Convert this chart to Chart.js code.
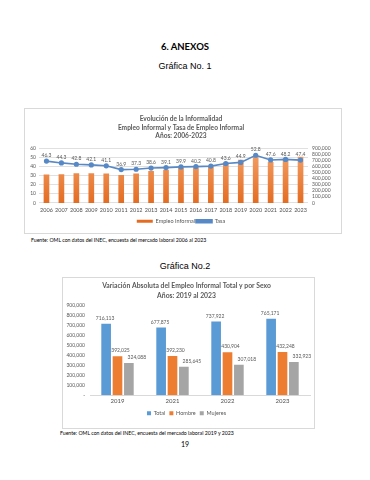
<!DOCTYPE html>
<html lang="es">
<head>
<meta charset="utf-8">
<title>Anexos - Empleo Informal</title>
<script src="https://cdn.jsdelivr.net/npm/chart.js@4.4.0/dist/chart.umd.min.js"></script>
<style>
  body { margin: 0; background: #fff; font-family: Lato, "Open Sans", sans-serif; }
  .page { position: relative; width: 370px; height: 480px; overflow: hidden; }
  .heading { position: absolute; left: 0; width: 370px; text-align: center; font-weight: bold; font-size: 9.5px; top: 41px; color: #000; }
  .caption { position: absolute; left: 0; width: 370px; text-align: center; font-family: "Liberation Sans", Arial, sans-serif; font-size: 9px; color: #000; }
  .box { position: absolute; border: 1px solid #D9D9D9; background: #fff; }
  .box canvas { display: block; }
  .source { position: absolute; font-size: 5.2px; color: #000; white-space: nowrap; }
  .pagenum { position: absolute; left: 0; width: 370px; text-align: center; font-size: 7px; top: 440px; }
</style>
</head>
<body>
<div class="page">
  <div class="heading">6. ANEXOS</div>
  <div class="caption" style="top:61px">Gráfica No. 1</div>

  <div class="box" style="left:24px; top:108px; width:316px; height:124px;">
    <canvas id="chartInformal"></canvas>
  </div>
  <div class="source" style="left:31px; top:237px;">Fuente: OML con datos del INEC, encuesta del mercado laboral 2006 al 2023</div>

  <div class="caption" style="top:261px">Gráfica No.2</div>

  <div class="box" style="left:62px; top:277px; width:251px; height:150px;">
    <canvas id="chartSexo"></canvas>
  </div>
  <div class="source" style="left:60px; top:430px;">Fuente: OML con datos del INEC, encuesta del mercado laboral 2019 y 2023</div>

  <div class="pagenum">19</div>
</div>

<script>
// Gráfica 1 data
const years = ["2006", "2007", "2008", "2009", "2010", "2011", "2012", "2013", "2014",
  "2015", "2016", "2017", "2018", "2019", "2020", "2021", "2022", "2023"];
const empleoInformal = [471000, 476000, 494000, 494000, 487000, 464000, 490000, 532000, 551000,
  578000, 589000, 601000, 672000, 716113, 779000, 677875, 737922, 765171];
const tasa = [46.3, 44.3, 42.8, 42.1, 41.1, 36.9, 37.3, 38.6, 39.1,
  39.9, 40.2, 40.8, 43.6, 44.9, 52.8, 47.6, 48.2, 47.4];

// Gráfica 2 data
const periodos = ["2019", "2021", "2022", "2023"];
const total = [716113, 677875, 737922, 765171];
const hombre = [392025, 392230, 430904, 432248];
const mujeres = [324088, 285645, 307018, 332923];

const textGray = "#595959";
const gridGray = "#E0E0E0";
const fontFamily = "Lato, 'Open Sans', sans-serif";

const fmt = (v) => v.toLocaleString("en-US");

// draws the value above each bar / point of the datasets listed in options
const valueLabels = {
  id: "valueLabels",
  afterDatasetsDraw(chart, args, opts) {
    if (!opts.datasets) return;
    const ctx = chart.ctx;
    ctx.save();
    ctx.font = opts.size + "px " + fontFamily;
    ctx.fillStyle = textGray;
    ctx.textAlign = "center";
    ctx.textBaseline = "bottom";
    opts.datasets.forEach((i, k) => {
      const meta = chart.getDatasetMeta(i);
      const data = chart.data.datasets[i].data;
      const dx = opts.dx ? opts.dx[k] : 0;
      meta.data.forEach((el, j) => {
        ctx.fillText(opts.format(data[j]), el.x + dx, el.y - opts.offset);
      });
    });
    ctx.restore();
  },
};

function barGradient(context) {
  const area = context.chart.chartArea;
  if (!area) return "#ED7D31";
  const g = context.chart.ctx.createLinearGradient(0, area.top, 0, area.bottom);
  g.addColorStop(0, "#F4A36B");
  g.addColorStop(1, "#E46C22");
  return g;
}

function initChartInformal() {
  const ctx = document.getElementById("chartInformal");
  new Chart(ctx, {
    type: "bar",
    data: {
      labels: years,
      datasets: [
        {
          type: "bar",
          label: "Empleo Informal",
          data: empleoInformal,
          yAxisID: "y1",
          backgroundColor: barGradient,
          barPercentage: 0.38,
          categoryPercentage: 1,
          order: 1,
        },
        {
          type: "line",
          label: "Tasa",
          data: tasa,
          yAxisID: "y",
          borderColor: "#5689C6",
          backgroundColor: "#5689C6",
          borderWidth: 1.6,
          pointRadius: 1.8,
          pointBackgroundColor: "#5689C6",
          pointBorderColor: "#5689C6",
          tension: 0,
          order: 0,
        },
      ],
    },
    options: {
      responsive: true,
      maintainAspectRatio: false,
      animation: false,
      layout: { padding: { left: 0, right: 4, top: 0, bottom: -1 } },
      plugins: {
        title: {
          display: true,
          text: ["Evolución de la Informalidad", "Empleo Informal y Tasa de Empleo Informal", "Años: 2006-2023"],
          color: textGray,
          font: { family: fontFamily, size: 6.6, weight: "bold", lineHeight: 1.25 },
          padding: { top: 6, bottom: 9 },
        },
        legend: {
          position: "bottom",
          labels: {
            color: textGray,
            font: { family: fontFamily, size: 5.5 },
            boxWidth: 16,
            boxHeight: 3,
            padding: 1,
            sort: (a, b) => a.datasetIndex - b.datasetIndex,
          },
        },
        tooltip: { enabled: false },
        valueLabels: { datasets: [1], size: 5, offset: 3, format: (v) => v.toFixed(1) },
      },
      scales: {
        x: {
          grid: { display: false, drawTicks: false },
          border: { display: false },
          ticks: { color: "#505050", font: { family: fontFamily, size: 5.5 }, padding: 4, maxRotation: 0, autoSkip: false },
        },
        y: {
          position: "left",
          min: 0,
          max: 60,
          ticks: { stepSize: 10, color: textGray, font: { family: fontFamily, size: 5 }, padding: 3 },
          grid: { color: gridGray, drawTicks: false },
          border: { display: false },
          afterFit: (s) => { s.width = 14; },
        },
        y1: {
          position: "right",
          min: 0,
          max: 900000,
          ticks: {
            stepSize: 100000,
            autoSkip: false,
            color: textGray,
            font: { family: fontFamily, size: 5 },
            padding: 4,
            callback: (v) => fmt(v),
          },
          grid: { display: false, drawTicks: false },
          border: { display: false },
          afterFit: (s) => { s.width = 29; },
        },
      },
    },
    plugins: [valueLabels],
  });
}

function initChartSexo() {
  const ctx = document.getElementById("chartSexo");
  const barOpts = { barPercentage: 0.85, categoryPercentage: 0.62 };
  new Chart(ctx, {
    type: "bar",
    data: {
      labels: periodos,
      datasets: [
        { label: "Total", data: total, backgroundColor: "#5B9BD5", ...barOpts },
        { label: "Hombre", data: hombre, backgroundColor: "#ED7D31", ...barOpts },
        { label: "Mujeres", data: mujeres, backgroundColor: "#A5A5A5", ...barOpts },
      ],
    },
    options: {
      responsive: true,
      maintainAspectRatio: false,
      animation: false,
      layout: { padding: { right: 4, bottom: 2 } },
      plugins: {
        title: {
          display: true,
          text: ["Variación Absoluta del Empleo Informal Total y por Sexo", "Años: 2019 al 2023"],
          color: textGray,
          font: { family: fontFamily, size: 6.8, weight: "bold", lineHeight: 1.5 },
          padding: { top: 3, bottom: 4 },
        },
        legend: {
          position: "bottom",
          labels: {
            color: textGray,
            font: { family: fontFamily, size: 5.5 },
            boxWidth: 4,
            boxHeight: 4,
            padding: 4,
          },
        },
        tooltip: { enabled: false },
        valueLabels: { datasets: [0, 1, 2], dx: [-1, 3, 8], size: 5, offset: 3, format: fmt },
      },
      scales: {
        x: {
          grid: { display: false, drawTicks: false },
          border: { display: true, color: "#D9D9D9" },
          ticks: { color: "#505050", font: { family: fontFamily, size: 6 }, padding: 2 },
        },
        y: {
          min: 0,
          max: 900000,
          ticks: {
            stepSize: 100000,
            autoSkip: false,
            color: textGray,
            font: { family: fontFamily, size: 5 },
            padding: 5,
            callback: (v) => (v === 0 ? "-" : fmt(v)),
          },
          grid: { display: false, drawTicks: false },
          border: { display: false },
          afterFit: (s) => { s.width = 27; },
        },
      },
    },
    plugins: [valueLabels],
  });
}

document.addEventListener("DOMContentLoaded", function () {
  if (typeof Chart !== "undefined") {
    initChartInformal();
    initChartSexo();
  } else {
    console.error("Chart.js is not loaded.");
  }
});
</script>
</body>
</html>
